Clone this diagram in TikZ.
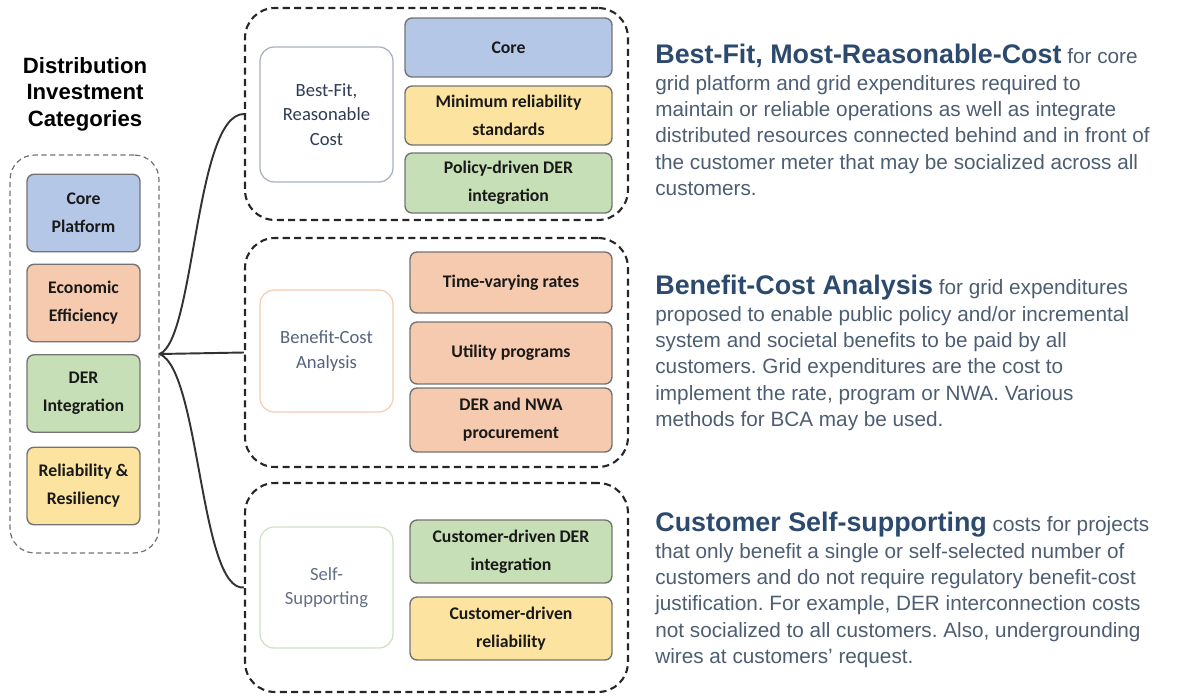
\documentclass[tikz,border=0pt]{standalone}
\usepackage{fontspec}
\setmainfont{Liberation Sans}
\newfontfamily\boxfont{Carlito}
\frenchspacing

\definecolor{coreblue}{HTML}{B4C7E7}
\definecolor{econorange}{HTML}{F6CAAE}
\definecolor{dergreen}{HTML}{C6DFB6}
\definecolor{relyellow}{HTML}{FCE39F}
\definecolor{headblue}{HTML}{2C4A6E}
\definecolor{bodygrey}{HTML}{4D5D72}
\definecolor{fitline}{HTML}{A8B0BE}
\definecolor{fittext}{HTML}{2E3C54}
\definecolor{bcaline}{HTML}{F5CDAF}
\definecolor{bcatext}{HTML}{55647B}
\definecolor{selfline}{HTML}{CFE0C5}
\definecolor{selftext}{HTML}{647084}

\newcommand\catlead[1]{{\color{headblue}\fontsize{15.3}{15}\selectfont\bfseries #1}}

\tikzset{
	catbox/.style={draw=black!55, line width=0.8pt, rounded corners=4pt, align=center,
		inner sep=0pt, text=black!90, font=\boxfont\bfseries\fontsize{10.1}{16}\selectfont},
	titlebox/.style={draw, line width=0.7pt, rounded corners=8pt, fill=white, align=center,
		minimum width=2.66cm, font=\boxfont\fontsize{10.6}{14}\selectfont},
	groupframe/.style={draw=black!85, dash pattern=on 4pt off 2.5pt, line width=1.2pt,
		rounded corners=17pt, minimum width=7.66cm},
	leftframe/.style={draw=black!55, dash pattern=on 3pt off 2pt, line width=0.7pt,
		rounded corners=14pt},
	desc/.style={anchor=north west, align=left, inner sep=0pt, text=bodygrey,
		font=\fontsize{11.8}{15}\selectfont},
	brace/.style={line width=1.1pt, draw=black!80},
}

\begin{document}
\begin{tikzpicture}[x=0.02cm, y=-0.02cm]
	\useasboundingbox (0,0) rectangle (1190,696);
	
	%%%%% CATEGORIES %%%%%
	\node[font=\bfseries\fontsize{12.6}{15}\selectfont, align=center] (head) at (85,94) {Distribution\\Investment\\Categories};
	\node[leftframe, minimum width=2.98cm, minimum height=7.96cm] (cats) at (84.5,354) {};
	
	\node[catbox, fill=coreblue, minimum width=2.26cm, minimum height=1.55cm] (core) at (83.5,213) {Core\\Platform};
	\node[catbox, fill=econorange, minimum width=2.26cm, minimum height=1.55cm] (econ) at (83.5,303) {Economic\\Efficiency};
	\node[catbox, fill=dergreen, minimum width=2.26cm, minimum height=1.55cm] (der) at (83.5,393.5) {DER\\Integration};
	\node[catbox, fill=relyellow, minimum width=2.26cm, minimum height=1.55cm] (rel) at (83.5,486) {Reliability \&\\Resiliency};
	
	%%%%% GROUPS %%%%%
	\node[groupframe, minimum height=4.24cm] (g1) at (436.5,114) {};
	\node[groupframe, minimum height=4.58cm] (g2) at (436.5,352.5) {};
	\node[groupframe, minimum height=4.18cm] (g3) at (436.5,587.5) {};
	
	% best-fit
	\node[titlebox, draw=fitline, text=fittext, minimum height=2.7cm] (bestfit) at (326.5,114.5) {Best-Fit,\\Reasonable\\Cost};
	\node[catbox, fill=coreblue, minimum width=4.14cm, minimum height=1.18cm] (gcore) at (508.5,47.5) {Core};
	\node[catbox, fill=relyellow, minimum width=4.14cm, minimum height=1.18cm] (minrel) at (508.5,115.5) {Minimum reliability\\standards};
	\node[catbox, fill=dergreen, minimum width=4.14cm, minimum height=1.2cm] (policy) at (508.5,183) {Policy-driven DER\\integration};
	
	% benefit-cost
	\node[titlebox, draw=bcaline, text=bcatext, minimum height=2.44cm] (bca) at (326.5,351) {Benefit-Cost\\Analysis};
	\node[catbox, fill=econorange, minimum width=4.04cm, minimum height=1.22cm] (tvr) at (511,282.5) {Time-varying rates};
	\node[catbox, fill=econorange, minimum width=4.04cm, minimum height=1.24cm] (util) at (511,353) {Utility programs};
	\node[catbox, fill=econorange, minimum width=4.04cm, minimum height=1.28cm] (nwa) at (511,420) {DER and NWA\\procurement};
	
	% self-supporting
	\node[titlebox, draw=selfline, text=selftext, minimum height=2.42cm] (self) at (326.5,587.5) {Self-\\Supporting};
	\node[catbox, fill=dergreen, minimum width=4.04cm, minimum height=1.26cm] (custder) at (511,551.5) {Customer-driven DER\\integration};
	\node[catbox, fill=relyellow, minimum width=4.04cm, minimum height=1.26cm] (custrel) at (511,628.5) {Customer-driven\\reliability};
	
	%%%%% BRACE %%%%%
	\draw[brace] (cats.east) .. controls (195,340) and (195,114) .. (g1.west);
	\draw[brace] (cats.east) -- (g2.west);
	\draw[brace] (cats.east) .. controls (200,370) and (200,592) .. (g3.west);
	
	%%%%% TEXT %%%%%
	\node[desc] (d1) at (655,44) {\catlead{Best-Fit, Most-Reasonable-Cost} for core\\
		grid platform and grid expenditures required to\\
		maintain or reliable operations as well as integrate\\
		distributed resources connected behind and in front of\\
		the customer meter that may be socialized across all\\
		customers.};
	\node[desc] (d2) at (655,275) {\catlead{Benefit-Cost Analysis} for grid expenditures\\
		proposed to enable public policy and/or incremental\\
		system and societal benefits to be paid by all\\
		customers. Grid expenditures are the cost to\\
		implement the rate, program or NWA. Various\\
		methods for BCA may be used.};
	\node[desc] (d3) at (655,512) {\catlead{Customer Self-supporting} costs for projects\\
		that only benefit a single or self-selected number of\\
		customers and do not require regulatory benefit-cost\\
		justification. For example, DER interconnection costs\\
		not socialized to all customers. Also, undergrounding\\
		wires at customers’ request.};
\end{tikzpicture}
\end{document}
